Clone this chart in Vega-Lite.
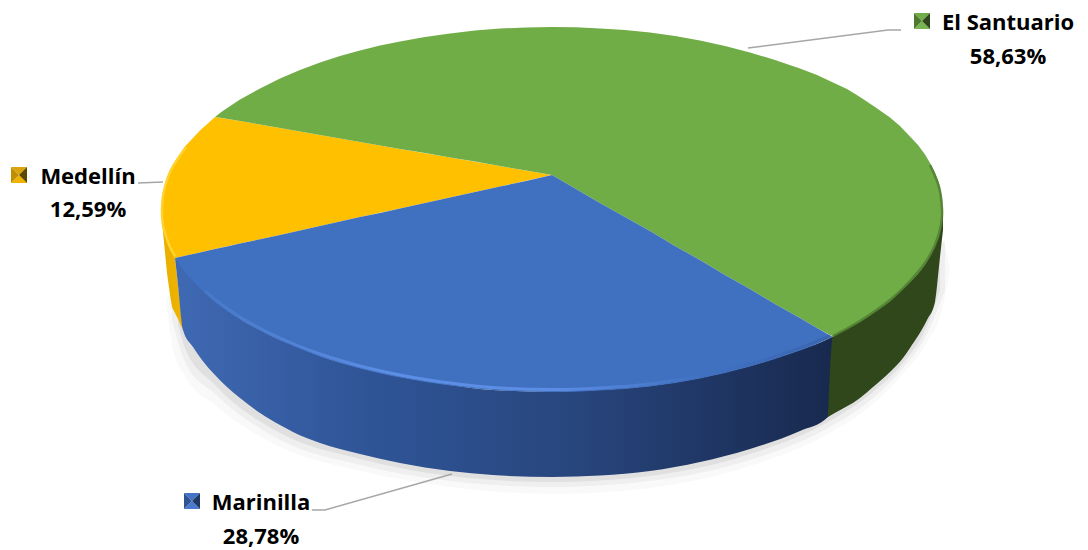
{"$schema":"https://vega.github.io/schema/vega-lite/v6.json","width":1088,"height":550,"padding":0,"autosize":{"type":"none"},"background":"white","view":{"stroke":null},
"datasets":{
"shadowOuter":[{"x":166,"y":300,"y2":300},{"x":172,"y":290,"y2":345},{"x":185,"y":270,"y2":376},{"x":215,"y":300,"y2":405},{"x":280,"y":340,"y2":447},{"x":360,"y":368,"y2":471},{"x":450,"y":385,"y2":487},{"x":552,"y":392,"y2":494},{"x":650,"y":386,"y2":488},{"x":750,"y":366,"y2":466},{"x":828,"y":339,"y2":434},{"x":873,"y":313,"y2":404},{"x":903,"y":288,"y2":374},{"x":927,"y":262,"y2":342},{"x":942,"y":240,"y2":310},{"x":950,"y":270,"y2":270}],
"shadowMid":[{"x":172,"y":300,"y2":320},{"x":185,"y":270,"y2":362},{"x":215,"y":300,"y2":394},{"x":280,"y":340,"y2":440},{"x":360,"y":368,"y2":465},{"x":450,"y":385,"y2":481},{"x":552,"y":392,"y2":487},{"x":650,"y":386,"y2":481},{"x":750,"y":366,"y2":460},{"x":828,"y":339,"y2":428},{"x":873,"y":313,"y2":398},{"x":903,"y":288,"y2":368},{"x":927,"y":262,"y2":334},{"x":945,"y":240,"y2":290}],
"shadowInner":[{"x":178,"y":300,"y2":325},{"x":185,"y":270,"y2":348},{"x":215,"y":300,"y2":385},{"x":280,"y":340,"y2":433},{"x":360,"y":368,"y2":459},{"x":450,"y":385,"y2":476},{"x":552,"y":392,"y2":482},{"x":650,"y":386,"y2":476},{"x":750,"y":366,"y2":454},{"x":828,"y":339,"y2":422},{"x":873,"y":313,"y2":392},{"x":903,"y":288,"y2":363},{"x":927,"y":262,"y2":326},{"x":940,"y":240,"y2":290}],
"sideOrange":[{"x":161,"y":209.5,"y2":209.5},{"x":162,"y":218,"y2":218},{"x":163,"y":227.5,"y2":232},{"x":167,"y":240,"y2":273},{"x":170,"y":248.5,"y2":295},{"x":172,"y":252,"y2":307},{"x":175,"y":258,"y2":313},{"x":178,"y":285,"y2":319},{"x":183,"y":330,"y2":330}],
"sideBlue":[{"x":175,"y":258,"y2":258},{"x":178,"y":261,"y2":285},{"x":183,"y":268,"y2":330},{"x":193,"y":280,"y2":347},{"x":202,"y":289,"y2":360},{"x":215,"y":301,"y2":375},{"x":227,"y":310,"y2":387},{"x":240,"y":319,"y2":398},{"x":260,"y":330,"y2":413},{"x":280,"y":340,"y2":425},{"x":293,"y":345,"y2":432},{"x":320,"y":356,"y2":443},{"x":360,"y":368,"y2":454},{"x":400,"y":377,"y2":463},{"x":450,"y":385,"y2":471},{"x":493,"y":390,"y2":475},{"x":552,"y":391.5,"y2":477},{"x":600,"y":390,"y2":475.5},{"x":650,"y":386,"y2":471},{"x":700,"y":378,"y2":462},{"x":750,"y":366,"y2":449},{"x":800,"y":350,"y2":431},{"x":828,"y":339,"y2":417},{"x":833,"y":336.5,"y2":336.5}],
"sideGreen":[{"x":828,"y":417,"y2":417},{"x":833,"y":336,"y2":414},{"x":860,"y":321,"y2":398},{"x":873,"y":312,"y2":387},{"x":890,"y":300,"y2":372},{"x":903,"y":287,"y2":358},{"x":910,"y":281,"y2":348},{"x":927,"y":261,"y2":320},{"x":935,"y":245,"y2":302},{"x":940,"y":231,"y2":257},{"x":943,"y":209.5,"y2":230}],
"topOrange":[{"x":161,"y":209.5,"y2":209.5},{"x":163,"y":191.5,"y2":227.5},{"x":170,"y":170.5,"y2":248.5},{"x":175,"y":161.5,"y2":258},{"x":185,"y":146.5,"y2":255.8},{"x":200,"y":130.5,"y2":252.5},{"x":215,"y":117,"y2":249},{"x":240,"y":121,"y2":243.6},{"x":280,"y":128,"y2":235},{"x":320,"y":135,"y2":226},{"x":360,"y":142,"y2":217},{"x":400,"y":149,"y2":208.5},{"x":450,"y":157.5,"y2":197.5},{"x":500,"y":166,"y2":186.5},{"x":552,"y":175,"y2":175}],
"topGreen":[{"x":215,"y":117,"y2":117},{"x":222,"y":111.5,"y2":118},{"x":240,"y":99.5,"y2":121},{"x":260,"y":88.5,"y2":124.5},{"x":280,"y":78.5,"y2":128},{"x":300,"y":70,"y2":131.5},{"x":320,"y":62.5,"y2":135},{"x":340,"y":56,"y2":138.5},{"x":360,"y":50.5,"y2":142},{"x":380,"y":45.5,"y2":145.5},{"x":400,"y":41.5,"y2":149},{"x":425,"y":37,"y2":153},{"x":450,"y":33.5,"y2":157.5},{"x":475,"y":30.5,"y2":161.5},{"x":500,"y":28.5,"y2":166},{"x":526,"y":27.5,"y2":170.5},{"x":552,"y":27,"y2":175},{"x":576,"y":27.3,"y2":189},{"x":600,"y":28.5,"y2":203},{"x":625,"y":30,"y2":217},{"x":650,"y":32.5,"y2":231},{"x":675,"y":36,"y2":246},{"x":700,"y":40.5,"y2":260},{"x":725,"y":46,"y2":275},{"x":750,"y":52.5,"y2":289},{"x":775,"y":60,"y2":304},{"x":800,"y":68.5,"y2":318},{"x":817,"y":75,"y2":328},{"x":833,"y":82.5,"y2":336.5},{"x":847,"y":89,"y2":329},{"x":860,"y":97,"y2":322},{"x":875,"y":107,"y2":312},{"x":890,"y":117.5,"y2":301.5},{"x":900,"y":126,"y2":292},{"x":910,"y":136.5,"y2":282.5},{"x":918,"y":145,"y2":274},{"x":925,"y":154.5,"y2":264.5},{"x":930,"y":163,"y2":256},{"x":935,"y":172.5,"y2":246.5},{"x":938,"y":180,"y2":239},{"x":940,"y":187,"y2":232},{"x":942,"y":197,"y2":222},{"x":943,"y":209.5,"y2":209.5}],
"topBlue":[{"x":175,"y":258,"y2":258},{"x":185,"y":255.8,"y2":272.5},{"x":200,"y":252.5,"y2":288.5},{"x":215,"y":249,"y2":302},{"x":227,"y":246.4,"y2":311},{"x":240,"y":243.6,"y2":319.5},{"x":260,"y":239.3,"y2":330.5},{"x":280,"y":235,"y2":340.5},{"x":300,"y":230.5,"y2":349},{"x":320,"y":226,"y2":356.5},{"x":340,"y":221.5,"y2":363},{"x":360,"y":217,"y2":368.5},{"x":380,"y":213,"y2":373.5},{"x":400,"y":208.5,"y2":377.5},{"x":425,"y":203,"y2":382},{"x":450,"y":197.5,"y2":385.5},{"x":475,"y":192,"y2":388.5},{"x":500,"y":186.5,"y2":390.5},{"x":526,"y":181,"y2":391.5},{"x":552,"y":175,"y2":392},{"x":576,"y":189,"y2":391.7},{"x":600,"y":203,"y2":390.5},{"x":625,"y":217,"y2":389},{"x":650,"y":231,"y2":386.5},{"x":675,"y":246,"y2":383},{"x":700,"y":260,"y2":378.5},{"x":725,"y":275,"y2":373},{"x":750,"y":289,"y2":366.5},{"x":775,"y":304,"y2":359},{"x":800,"y":318,"y2":350.5},{"x":817,"y":328,"y2":344},{"x":833,"y":337,"y2":336.5}],
"rimBlue":[{"x":205,"y":291},{"x":215,"y":299.5},{"x":240,"y":317},{"x":280,"y":338},{"x":320,"y":354},{"x":360,"y":366},{"x":400,"y":375},{"x":450,"y":383},{"x":500,"y":388},{"x":552,"y":389.5},{"x":600,"y":388},{"x":650,"y":384},{"x":700,"y":376},{"x":750,"y":364},{"x":800,"y":348},{"x":830,"y":336}],
"rimOrange":[{"x":175,"y":256,"k":1},{"x":170,"y":247,"k":2},{"x":166,"y":236,"k":3},{"x":163,"y":225,"k":4},{"x":162,"y":209,"k":5},{"x":164,"y":191,"k":6},{"x":171,"y":170,"k":7},{"x":186,"y":147,"k":8}],
"rimGreen":[{"x":833,"y":336,"k":1},{"x":860,"y":321,"k":2},{"x":890,"y":300,"k":3},{"x":910,"y":281,"k":4},{"x":925,"y":263,"k":5},{"x":935,"y":245,"k":6},{"x":941,"y":225,"k":7},{"x":942,"y":209,"k":8},{"x":939,"y":187,"k":9},{"x":930,"y":165,"k":10}],
"leaders":[{"slice":"El Santuario","x":748,"y":48,"k":1},{"slice":"El Santuario","x":888,"y":30,"k":2},{"slice":"El Santuario","x":901,"y":30,"k":3},{"slice":"Medellín","x":138,"y":183,"k":1},{"slice":"Medellín","x":163,"y":182,"k":2},{"slice":"Marinilla","x":452,"y":474,"k":1},{"slice":"Marinilla","x":325,"y":510,"k":2},{"slice":"Marinilla","x":312,"y":510,"k":3}],
"swatches":[
{"slice":"Medellín","face":"top","x":19,"y":175},{"slice":"Medellín","face":"bottom","x":19,"y":175},{"slice":"Medellín","face":"left","x":19,"y":175},{"slice":"Medellín","face":"right","x":19,"y":175},
{"slice":"El Santuario","face":"top","x":922,"y":21},{"slice":"El Santuario","face":"bottom","x":922,"y":21},{"slice":"El Santuario","face":"left","x":922,"y":21},{"slice":"El Santuario","face":"right","x":922,"y":21},
{"slice":"Marinilla","face":"top","x":192,"y":501},{"slice":"Marinilla","face":"bottom","x":192,"y":501},{"slice":"Marinilla","face":"left","x":192,"y":501},{"slice":"Marinilla","face":"right","x":192,"y":501}],
"labels":[{"text":"El Santuario","x":1008,"y":30},{"text":"58,63%","x":1008,"y":64},{"text":"Medellín","x":88,"y":184},{"text":"12,59%","x":88,"y":217},{"text":"Marinilla","x":261,"y":510},{"text":"28,78%","x":261,"y":544}]
},
"encoding":{"x":{"field":"x","type":"quantitative","axis":null,"scale":{"domain":[0,1088],"range":[0,1088],"nice":false,"zero":false}},"y":{"field":"y","type":"quantitative","axis":null,"scale":{"domain":[0,550],"range":[0,550],"nice":false,"zero":false}}},
"layer":[
{"data":{"name":"shadowOuter"},"mark":{"type":"area","orient":"vertical","interpolate":"monotone","fill":"#000000","opacity":0.025},"encoding":{"y2":{"field":"y2"}}},
{"data":{"name":"shadowMid"},"mark":{"type":"area","orient":"vertical","interpolate":"monotone","fill":"#000000","opacity":0.04},"encoding":{"y2":{"field":"y2"}}},
{"data":{"name":"shadowInner"},"mark":{"type":"area","orient":"vertical","interpolate":"monotone","fill":"#000000","opacity":0.06},"encoding":{"y2":{"field":"y2"}}},
{"data":{"name":"sideOrange"},"mark":{"type":"area","orient":"vertical","fill":{"gradient":"linear","x1":0,"x2":1,"y1":0,"y2":0,"stops":[{"offset":0,"color":"#e8ae00"},{"offset":1,"color":"#f0b400"}]}},"encoding":{"y2":{"field":"y2"}}},
{"data":{"name":"sideBlue"},"mark":{"type":"area","orient":"vertical","interpolate":"monotone","fill":{"gradient":"linear","x1":0,"x2":1,"y1":0,"y2":0,"stops":[{"offset":0,"color":"#3f69b3"},{"offset":0.3,"color":"#2f5496"},{"offset":0.6,"color":"#28467e"},{"offset":1,"color":"#18294e"}]}},"encoding":{"y2":{"field":"y2"}}},
{"data":{"name":"sideGreen"},"mark":{"type":"area","orient":"vertical","interpolate":"monotone","fill":"#2f471b"},"encoding":{"y2":{"field":"y2"}}},
{"data":{"name":"topOrange"},"mark":{"type":"area","orient":"vertical","fill":"#ffc000"},"encoding":{"y2":{"field":"y2"}}},
{"data":{"name":"topGreen"},"mark":{"type":"area","orient":"vertical","fill":"#70ad47"},"encoding":{"y2":{"field":"y2"}}},
{"data":{"name":"topBlue"},"mark":{"type":"area","orient":"vertical","fill":"#4070c0"},"encoding":{"y2":{"field":"y2"}}},
{"data":{"name":"rimOrange"},"mark":{"type":"line","strokeWidth":2.5,"stroke":"#ffd230","interpolate":"cardinal"},"encoding":{"order":{"field":"k"}}},
{"data":{"name":"rimBlue"},"mark":{"type":"line","strokeWidth":3,"interpolate":"monotone","stroke":{"gradient":"linear","x1":0,"x2":1,"y1":0,"y2":0,"stops":[{"offset":0,"color":"#4878c8"},{"offset":0.3,"color":"#5c8ee6"},{"offset":0.55,"color":"#5c8ee6"},{"offset":0.8,"color":"#4070c0"},{"offset":1,"color":"#3a66b0"}]}}},
{"data":{"name":"rimGreen"},"mark":{"type":"line","strokeWidth":2.5,"stroke":"#4f7a31","opacity":0.8,"interpolate":"cardinal"},"encoding":{"order":{"field":"k"}}},
{"data":{"name":"leaders"},"mark":{"type":"line","stroke":"#a6a6a6","strokeWidth":1.4},"encoding":{"detail":{"field":"slice"},"order":{"field":"k"}}},
{"data":{"name":"swatches"},"mark":{"type":"point","filled":true,"size":256,"opacity":1,"strokeWidth":0},"encoding":{
"shape":{"field":"face","type":"nominal","legend":null,"scale":{"domain":["top","bottom","left","right"],"range":["M-1,-1L1,-1L0,0Z","M-1,1L1,1L0,0Z","M-1,-1L-1,1L0,0Z","M1,-1L1,1L0,0Z"]}},
"color":{"condition":[
{"test":"datum.slice==='Medellín'&&datum.face==='top'","value":"#d9a40c"},
{"test":"datum.slice==='Medellín'&&datum.face==='bottom'","value":"#f0b400"},
{"test":"datum.slice==='Medellín'&&datum.face==='left'","value":"#c08f00"},
{"test":"datum.slice==='Medellín'&&datum.face==='right'","value":"#5f4700"},
{"test":"datum.slice==='El Santuario'&&datum.face==='top'","value":"#70ad47"},
{"test":"datum.slice==='El Santuario'&&datum.face==='bottom'","value":"#78b450"},
{"test":"datum.slice==='El Santuario'&&datum.face==='left'","value":"#4d7a31"},
{"test":"datum.slice==='El Santuario'&&datum.face==='right'","value":"#2f471b"},
{"test":"datum.slice==='Marinilla'&&datum.face==='top'","value":"#4472c4"},
{"test":"datum.slice==='Marinilla'&&datum.face==='bottom'","value":"#4a7ad0"},
{"test":"datum.slice==='Marinilla'&&datum.face==='left'","value":"#2f5496"}],
"value":"#1f3864"}}},
{"data":{"name":"labels"},"mark":{"type":"text","font":"Open Sans","fontWeight":"bold","fontSize":22,"align":"center","baseline":"alphabetic","color":"#000000"},"encoding":{"text":{"field":"text","type":"nominal"}}}
]}
